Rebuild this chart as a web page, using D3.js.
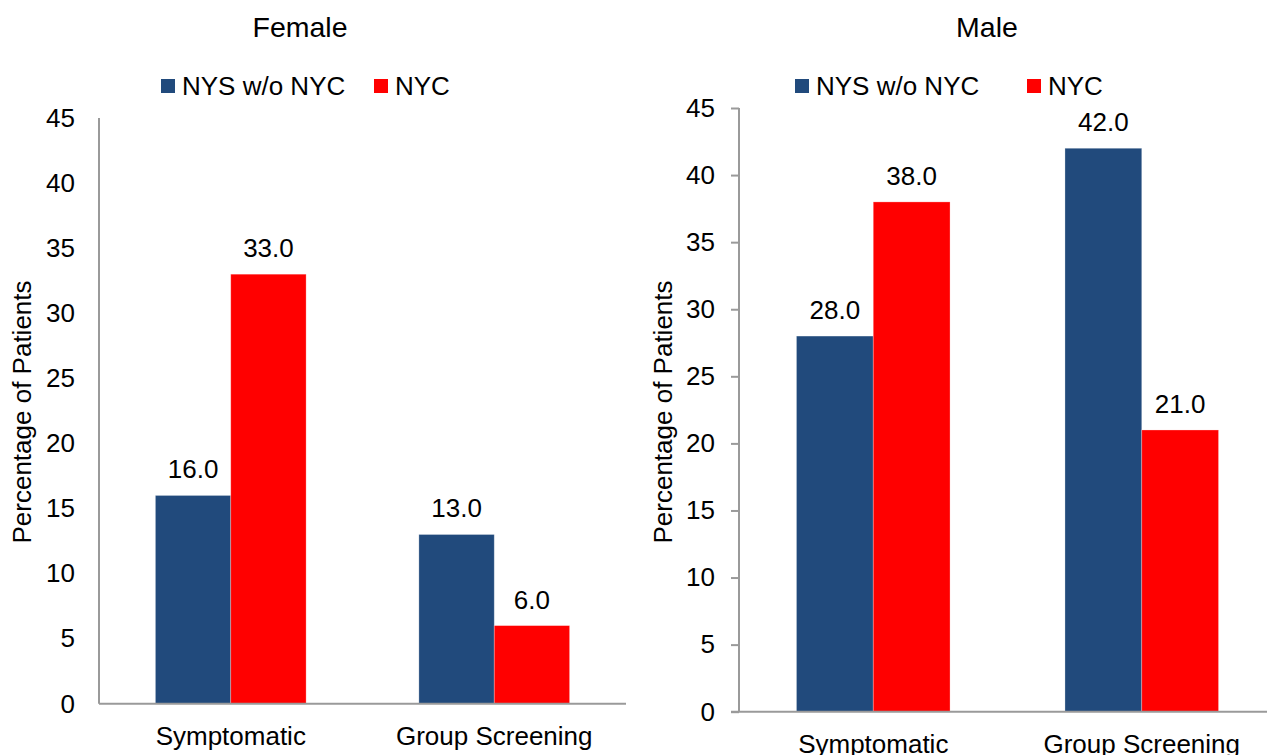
<!DOCTYPE html>
<html>
<head>
<meta charset="utf-8">
<script src="https://cdn.jsdelivr.net/npm/d3@7"></script>
<style>
  body { margin: 0; background: #fff; }
  svg { display: block; font-family: "Liberation Sans", Arial, sans-serif; }
</style>
</head>
<body>
<svg id="chart" width="1267" height="755"></svg>
<script>
const categories = ["Symptomatic", "Group Screening"];
const seriesNames = ["NYS w/o NYC", "NYC"];
const femaleValues = { "NYS w/o NYC": [16.0, 13.0], "NYC": [33.0, 6.0] };
const maleValues = { "NYS w/o NYC": [28.0, 42.0], "NYC": [38.0, 21.0] };
const yTicks = [0, 5, 10, 15, 20, 25, 30, 35, 40, 45];
const panelTitles = ["Female", "Male"];
const yAxisLabel = "Percentage of Patients";

const colors = { "NYS w/o NYC": "#214A7C", "NYC": "#FF0000" };
const svg = d3.select("#chart");

const panels = [
  { title: panelTitles[0], values: femaleValues, x0: 99, x1: 626, y0: 703.7, y1: 118, tickSize: 0, tickPad: 24,
    titleX: 300, legendX: 161, legendNYC: 374, yLabelX: 22, xAxisExtend: 0, catY: 745 },
  { title: panelTitles[1], values: maleValues, x0: 739, x1: 1276, y0: 711.7, y1: 108, tickSize: 8, tickPad: 16,
    titleX: 987, legendX: 795, legendNYC: 1027, yLabelX: 663, xAxisExtend: 8, catY: 753 }
];

panels.forEach(p => {
  const g = svg.append("g");
  const x = d3.scaleBand().domain(categories).range([p.x0, p.x1]).paddingInner(0.428).paddingOuter(0.214);
  const xs = d3.scaleBand().domain(seriesNames).range([0, x.bandwidth()]);
  const y = d3.scaleLinear().domain([0, 45]).range([p.y0, p.y1]);

  // title
  g.append("text").attr("x", p.titleX).attr("y", 37).attr("text-anchor", "middle")
    .attr("font-size", 28.5).attr("fill", "#000").text(p.title);

  // legend
  [[seriesNames[0], p.legendX], [seriesNames[1], p.legendNYC]].forEach(([s, lx]) => {
    g.append("rect").attr("x", lx).attr("y", 79).attr("width", 14).attr("height", 14).attr("fill", colors[s]);
    g.append("text").attr("x", lx + 21).attr("y", 95).attr("font-size", 26).attr("fill", "#000").text(s);
  });

  // bars
  seriesNames.forEach(s => {
    g.selectAll(null).data(p.values[s]).enter().append("rect")
      .attr("x", (d, i) => x(categories[i]) + xs(s))
      .attr("y", d => y(d))
      .attr("width", xs.bandwidth())
      .attr("height", d => y(0) - y(d))
      .attr("fill", colors[s])
      .attr("stroke", "#ffffff").attr("stroke-opacity", 0.35).attr("stroke-width", 0.8);
    g.selectAll(null).data(p.values[s]).enter().append("text")
      .attr("x", (d, i) => x(categories[i]) + xs(s) + xs.bandwidth() / 2)
      .attr("y", d => y(d) - 17)
      .attr("text-anchor", "middle").attr("font-size", 26).attr("fill", "#000")
      .text(d => d.toFixed(1));
  });

  // y axis
  const yAxis = d3.axisLeft(y).tickValues(yTicks).tickSize(p.tickSize).tickPadding(p.tickPad);
  const ya = g.append("g").attr("transform", `translate(${p.x0},0)`).call(yAxis);
  ya.select(".domain").attr("stroke", "#9a9a9a").attr("stroke-width", 2).attr("d", `M0,${p.y1}V${p.y0}`);
  ya.selectAll(".tick line").attr("stroke", "#9a9a9a").attr("stroke-width", 2);
  ya.selectAll(".tick text").attr("font-size", 26).attr("fill", "#000").attr("font-family", "Liberation Sans, Arial, sans-serif");

  // x axis
  const xAxis = d3.axisBottom(x).tickSize(0).tickPadding(0);
  const xa = g.append("g").attr("transform", `translate(0,${p.y0})`).call(xAxis);
  xa.select(".domain").attr("stroke", "#9a9a9a").attr("stroke-width", 2).attr("d", `M${p.x0 - p.xAxisExtend},0H${p.x1}`);
  xa.selectAll(".tick text").attr("font-size", 26).attr("fill", "#000")
    .attr("font-family", "Liberation Sans, Arial, sans-serif")
    .attr("dy", null).attr("y", p.catY - p.y0);

  // y label
  const cy = 412;
  g.append("text").attr("transform", `translate(${p.yLabelX + 9},${cy}) rotate(-90)`)
    .attr("text-anchor", "middle").attr("font-size", 26).attr("fill", "#000").text(yAxisLabel);
});
</script>
</body>
</html>
